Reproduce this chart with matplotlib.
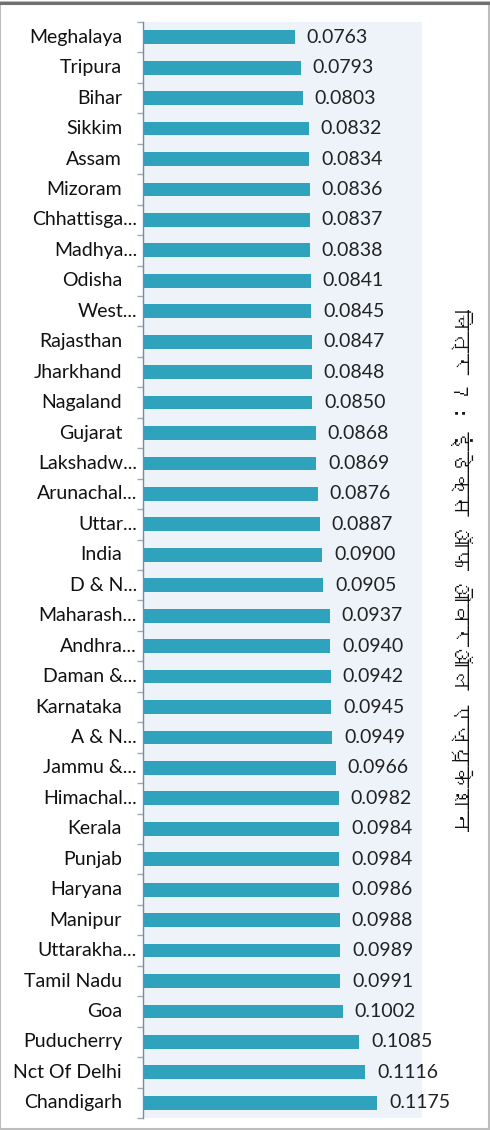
import matplotlib
matplotlib.use("Agg")
import matplotlib.pyplot as plt
from matplotlib import font_manager
from matplotlib.transforms import ScaledTranslation
from matplotlib.lines import Line2D
from matplotlib.patches import Rectangle
from matplotlib.ft2font import FT2Font

states = ["Meghalaya", "Tripura", "Bihar", "Sikkim", "Assam", "Mizoram",
          "Chhattisga...", "Madhya...", "Odisha", "West...", "Rajasthan",
          "Jharkhand", "Nagaland", "Gujarat", "Lakshadw...", "Arunachal...",
          "Uttar...", "India", "D & N...", "Maharash...", "Andhra...",
          "Daman &...", "Karnataka", "A & N...", "Jammu &...", "Himachal...",
          "Kerala", "Punjab", "Haryana", "Manipur", "Uttarakha...",
          "Tamil Nadu", "Goa", "Puducherry", "Nct Of Delhi", "Chandigarh"]
values = [0.0763, 0.0793, 0.0803, 0.0832, 0.0834, 0.0836, 0.0837, 0.0838,
          0.0841, 0.0845, 0.0847, 0.0848, 0.0850, 0.0868, 0.0869, 0.0876,
          0.0887, 0.0900, 0.0905, 0.0937, 0.0940, 0.0942, 0.0945, 0.0949,
          0.0966, 0.0982, 0.0984, 0.0984, 0.0986, 0.0988, 0.0989, 0.0991,
          0.1002, 0.1085, 0.1116, 0.1175]
title = "चित्र 7 : इंडेक्स ऑफ ओवरऑल एज्यूकेशन"

# find a font with Devanagari glyphs, if any
deva_family = None
for fe in font_manager.fontManager.ttflist:
    try:
        f = FT2Font(fe.fname)
        if 0x091A in f.get_charmap():
            deva_family = fe.name
            break
    except Exception:
        pass
title_fams = ([deva_family] if deva_family else []) + ["DejaVu Sans"]

label_font = "Lato"

fig = plt.figure(figsize=(4.9, 11.3), dpi=100)
ax = fig.add_axes([143/490, 1-1118/1130, (422-143)/490, (1118-22)/1130])
ax.set_facecolor("#EDF3F9")

y = list(range(len(states)))
bars = ax.barh(y, values, height=0.45, color="#2FA2BE", edgecolor="none", zorder=2)
ax.set_xlim(0, 0.14)
ax.set_ylim(len(states)-0.5, -0.5)

for sp in ["top", "right", "bottom"]:
    ax.spines[sp].set_visible(False)
ax.spines["left"].set_color("#6F8DAA")
ax.spines["left"].set_linewidth(1.0)
ax.set_xticks([])
ax.set_yticks(y)
ax.set_yticklabels([])
ax.tick_params(axis="y", which="major", length=0)
ax.set_yticks([i + 0.5 for i in range(-1, len(states))], minor=True)
ax.tick_params(axis="y", which="minor", length=4, color="#A0A8B0", width=1)

for i, (s, v) in enumerate(zip(states, values)):
    if s.endswith("..."):
        off = -6/100
    else:
        off = -21/100
    tr = ax.get_yaxis_transform() + ScaledTranslation(off, 0, fig.dpi_scale_trans)
    ax.text(0, i, s, transform=tr, ha="right", va="center",
            fontsize=14, family=label_font, color="#111111")
    ax.annotate(f"{v:.4f}", xy=(v, i), xytext=(8.5, 0), textcoords="offset points",
                ha="left", va="center", fontsize=14, family=label_font,
                color="#222222")

fig.text(461/490, 1-570/1130, title, rotation=270, ha="center", va="center",
         fontsize=15.7, family=title_fams, color="#111111")

# frame
fig.add_artist(Rectangle((0.001, 0.001), 0.997, 0.997, transform=fig.transFigure,
                         fill=False, edgecolor="#BDBDBD", lw=1.5))
fig.add_artist(Line2D([0, 1], [1-2.5/1130, 1-2.5/1130], transform=fig.transFigure,
                      color="#707070", lw=2.2))

fig.savefig("out.png", dpi=100)
